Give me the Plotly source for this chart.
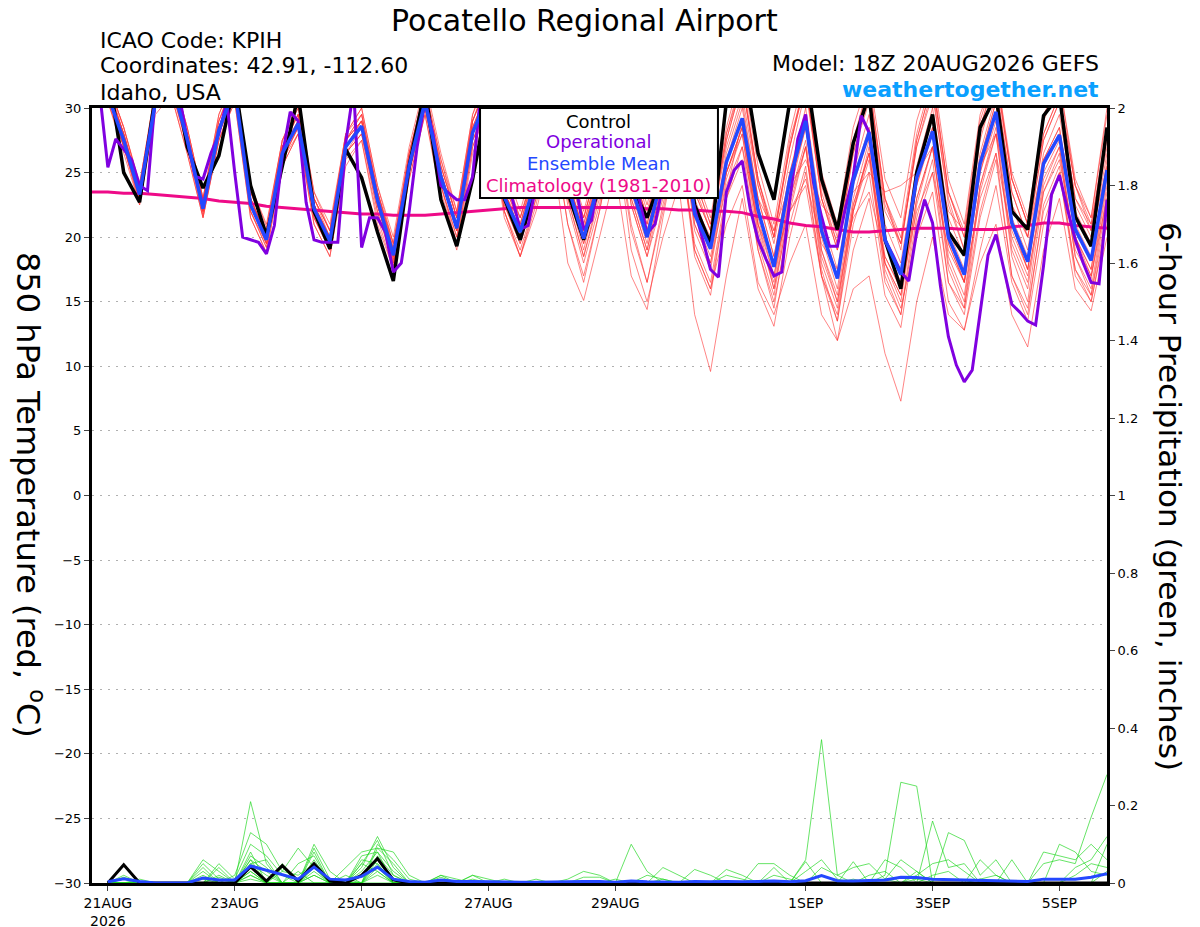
import pandas as pd
import plotly.graph_objs as go

# 6-hourly ensemble times (20AUG 18Z -> 5SEP 18Z), 3-hourly operational times
times = pd.date_range("2026-08-20 18:00", periods=65, freq="6h")
op_times = pd.date_range("2026-08-20 18:00", periods=129, freq="3h")
precip_times = times[1:]

tick_dates = ["2026-08-21", "2026-08-23", "2026-08-25", "2026-08-27",
              "2026-08-29", "2026-09-01", "2026-09-03", "2026-09-05"]
tick_labels = ["21AUG<br>2026", "23AUG", "25AUG", "27AUG", "29AUG", "1SEP", "3SEP", "5SEP"]

# 850 hPa temperature (C)
control_t = [32, 33, 25.0, 22.7, 31, 34, 27, 23.8, 26.3, 32, 24, 20.1, 25.5, 31, 22, 19.1,
             26.8, 24.6, 20.4, 16.6, 25.5, 31.5, 22.9, 19.3, 24.5, 31, 23, 19.8, 24, 31, 23.5, 19.8,
             24, 31, 24, 21.5, 25, 31, 22.5, 19.5, 30.5, 34, 26.5, 22.9, 30.5, 33, 24.5, 20.6,
             27.3, 31, 19.8, 16.0, 25.0, 29.5, 20.4, 18.6, 28.5, 31, 22.0, 20.6, 29.4, 31, 21.6, 19.3,
             28.5]
mean_t = [31.5, 31.0, 27.5, 23.3, 30.5, 32.0, 27.6, 22.2, 28.3, 31.5, 22.5, 19.8, 26.5, 28.8, 22.2, 19.7,
          27.0, 28.6, 22.9, 18.6, 25.5, 30.5, 24.7, 20.7, 28.1, 31.0, 23.1, 20.4, 24.5, 31.0, 24.0, 19.9,
          24.5, 31.0, 24.0, 20.0, 25.0, 31.0, 21.8, 19.1, 25.8, 29.2, 22.1, 17.7, 24.5, 29.0, 20.5, 16.8,
          24.4, 28.1, 19.8, 17.1, 24.6, 28.2, 20.0, 17.1, 25.7, 29.7, 21.1, 18.1, 25.7, 27.9, 20.6, 18.2,
          25.2]
clim_t = [23.5, 23.5, 23.4, 23.4, 23.3, 23.2, 23.1, 23.0, 22.8, 22.7, 22.6, 22.4, 22.3, 22.2, 22.1, 22.0,
          21.9, 21.8, 21.8, 21.7, 21.7, 21.7, 21.8, 21.9, 22.0, 22.1, 22.2, 22.3, 22.3, 22.3, 22.3, 22.3,
          22.3, 22.3, 22.3, 22.2, 22.2, 22.1, 22.1, 22.0, 22.0, 21.9, 21.6, 21.4, 21.1, 20.9, 20.8, 20.6,
          20.4, 20.4, 20.5, 20.6, 20.7, 20.7, 20.7, 20.6, 20.6, 20.6, 20.8, 20.9, 21.1, 21.1, 20.9, 20.8,
          20.7]
oper_t = [32, 31, 25.4, 27.6, 26.8, 26.0, 24.0, 23.6, 31, 33,
          33, 31, 27.6, 24.7, 24.5, 26.5, 28.0, 30.5, 25.0, 20.0,
          19.8, 19.6, 18.7, 20.9, 26.3, 29.7, 29.0, 22.7, 19.8, 19.6,
          19.6, 19.6, 27.3, 31.5, 19.2, 21.5, 21.5, 20.4, 17.3, 18.0,
          22.0, 27.0, 30.5, 28.0, 24.0, 23.4, 22.9, 22.9, 24.7, 31,
          32, 30, 26, 23, 20.6, 20.9, 24, 28, 31, 31,
          28, 24, 20.6, 21.3, 25, 29, 31, 30, 26, 23,
          20.3, 21, 24, 28, 31, 25, 22.2, 19.8, 17.5, 16.9,
          23.5, 25.2, 25.9, 22.2, 19.8, 18.3, 17.0, 17.3, 22.9, 27.6,
          29.5, 24.2, 21.6, 19.3, 19.3, 22.2, 24.7, 29.4, 28.1, 24.0,
          19.8, 18.6, 17.3, 16.6, 20.4, 22.9, 21.1, 16.2, 12.3, 10.1,
          8.8, 9.7, 14.2, 18.6, 20.2, 17.5, 14.8, 14.2, 13.5, 13.2,
          17.8, 23.3, 24.8, 22.2, 19.8, 18.0, 16.5, 16.4, 22.9]

# ensemble members, temperature
t_m01 = [32.0, 31.5, 28.0, 23.8, 31.0, 32.5, 28.0, 22.8, 29.0, 32.0, 23.5, 20.3, 27.0, 29.5, 23.0, 20.5, 27.5, 29.0, 23.5, 19.2, 26.5, 31.0, 25.5, 21.5, 29.0, 32.0, 24.0, 21.0, 25.5, 32.0, 25.0, 21.0, 25.5, 32.0, 25.5, 21.5, 26.5, 32.5, 23.5, 20.5, 27.0, 31.0, 24.0, 19.5, 26.0, 31.5, 23.0, 19.0, 26.5, 30.5, 22.0, 19.5, 27.0, 31.0, 23.0, 19.0, 28.0, 31.5, 23.5, 20.0, 27.5, 30.5, 23.0, 21.0, 27.5]
t_m02 = [31.0, 30.5, 27.0, 22.8, 30.0, 31.5, 27.0, 21.6, 27.5, 31.0, 22.0, 19.2, 26.0, 28.0, 21.5, 19.0, 26.5, 28.0, 22.0, 17.8, 25.0, 30.0, 24.0, 20.0, 27.5, 30.0, 22.5, 19.5, 23.5, 30.0, 23.0, 18.5, 23.0, 30.0, 22.5, 18.5, 24.0, 29.5, 20.5, 17.5, 24.5, 28.0, 20.5, 16.0, 23.0, 27.5, 19.0, 15.0, 22.5, 26.5, 18.0, 15.5, 23.0, 27.0, 18.5, 15.5, 24.0, 28.5, 19.5, 16.5, 24.5, 27.0, 19.0, 16.8, 24.0]
t_m03 = [32.5, 32.0, 28.5, 24.0, 31.5, 33.0, 28.5, 23.0, 29.5, 32.5, 24.0, 21.0, 27.5, 30.5, 23.5, 21.0, 28.0, 30.0, 24.0, 20.0, 27.0, 32.0, 26.5, 22.0, 29.5, 33.0, 25.5, 22.0, 26.5, 33.0, 26.0, 22.0, 26.5, 33.0, 26.5, 22.5, 27.5, 33.5, 25.0, 21.5, 28.5, 33.0, 25.5, 21.0, 28.0, 33.0, 25.0, 21.0, 28.5, 32.5, 24.5, 21.5, 29.0, 33.0, 24.5, 21.0, 29.5, 33.0, 25.0, 21.5, 29.5, 32.0, 24.5, 21.5, 30.0]
t_m04 = [31.5, 31.0, 27.5, 23.0, 30.5, 32.0, 27.0, 22.0, 28.0, 31.5, 22.0, 19.5, 26.0, 28.5, 21.5, 19.0, 26.5, 28.5, 22.5, 18.0, 25.0, 30.0, 24.0, 19.5, 27.0, 30.5, 22.0, 18.5, 23.0, 29.0, 21.0, 16.5, 22.0, 28.5, 19.0, 15.0, 20.0, 24.0, 14.0, 9.6, 17.0, 23.0, 16.0, 13.1, 20.0, 25.0, 17.0, 14.0, 22.0, 27.0, 18.0, 15.5, 24.0, 28.5, 20.0, 16.5, 25.0, 29.5, 21.0, 17.5, 25.5, 28.0, 20.0, 17.0, 24.5]
t_m05 = [31.0, 31.0, 27.0, 23.0, 30.0, 31.5, 27.5, 22.5, 28.5, 31.0, 23.0, 20.0, 26.5, 29.0, 22.5, 20.0, 27.0, 28.5, 23.0, 18.8, 25.5, 30.5, 24.5, 20.5, 28.0, 31.0, 23.5, 20.5, 24.5, 31.0, 24.5, 20.5, 25.0, 31.5, 24.0, 20.0, 25.5, 31.0, 22.5, 19.5, 25.0, 28.5, 21.0, 16.0, 22.0, 24.0, 17.0, 12.0, 16.0, 17.0, 11.0, 7.3, 15.0, 20.0, 14.0, 12.8, 19.0, 24.0, 16.5, 13.5, 21.0, 25.0, 17.0, 15.0, 21.0]
t_m06 = [31.0, 30.5, 27.0, 22.5, 29.5, 31.0, 26.5, 21.5, 27.5, 30.5, 21.5, 18.8, 25.5, 28.0, 21.0, 18.5, 26.0, 27.5, 21.5, 17.5, 24.5, 29.5, 23.5, 19.5, 27.0, 30.0, 22.0, 19.0, 23.0, 29.5, 22.5, 18.0, 22.5, 29.0, 21.0, 16.5, 22.0, 28.0, 18.5, 15.5, 23.0, 26.0, 19.0, 15.0, 21.0, 25.5, 17.0, 13.5, 21.0, 25.0, 16.5, 14.0, 21.5, 26.0, 16.5, 14.5, 22.0, 26.5, 17.0, 14.0, 22.5, 25.5, 17.5, 15.5, 22.0]
t_m07 = [32.0, 32.0, 28.5, 24.0, 31.5, 33.0, 28.5, 23.0, 29.0, 32.5, 23.5, 20.5, 27.5, 30.0, 23.0, 20.5, 28.0, 29.5, 23.5, 19.5, 26.5, 31.5, 26.0, 21.5, 29.0, 32.5, 24.5, 21.5, 25.5, 32.5, 25.5, 21.5, 26.0, 32.5, 25.5, 21.5, 27.0, 33.0, 24.0, 20.5, 28.0, 32.0, 24.5, 20.0, 27.5, 32.0, 23.5, 19.5, 27.0, 31.5, 23.0, 19.0, 27.5, 32.0, 23.5, 20.0, 28.5, 32.5, 24.5, 21.0, 28.0, 31.0, 24.0, 21.0, 28.5]
t_m08 = [31.5, 31.5, 27.5, 23.5, 30.5, 32.0, 28.0, 22.5, 28.0, 31.5, 23.0, 20.0, 26.5, 29.0, 22.5, 19.8, 27.0, 29.0, 23.0, 18.5, 25.5, 30.5, 24.5, 20.5, 27.5, 30.5, 22.0, 18.5, 22.0, 27.0, 18.0, 15.1, 20.0, 25.0, 17.0, 14.4, 21.5, 28.0, 19.5, 16.5, 23.5, 29.0, 20.0, 16.5, 23.5, 28.5, 19.0, 15.5, 23.0, 27.5, 18.5, 16.0, 24.0, 28.0, 19.5, 16.5, 26.0, 30.5, 21.0, 17.5, 26.0, 28.5, 20.0, 17.5, 26.0]
t_m09 = [31.5, 31.0, 27.5, 23.2, 30.5, 32.0, 27.5, 22.0, 28.5, 31.5, 22.5, 19.5, 26.5, 29.0, 22.0, 19.5, 27.0, 28.5, 22.5, 18.5, 25.5, 30.5, 24.5, 20.5, 28.0, 31.0, 23.0, 20.0, 24.5, 31.0, 24.0, 19.5, 24.5, 31.0, 23.5, 19.5, 25.0, 30.5, 21.5, 18.5, 25.0, 28.5, 21.0, 17.0, 23.0, 27.0, 18.5, 15.0, 22.0, 26.0, 17.5, 14.5, 20.0, 23.5, 15.0, 12.8, 18.0, 21.0, 14.0, 11.5, 19.0, 23.0, 16.0, 14.3, 20.0]
t_m10 = [31.5, 31.5, 28.0, 23.5, 31.0, 32.5, 28.0, 22.5, 28.5, 32.0, 23.0, 20.0, 27.0, 29.0, 22.5, 20.0, 27.5, 29.0, 23.0, 19.0, 26.0, 31.0, 25.0, 21.0, 28.5, 31.5, 23.5, 20.5, 25.0, 31.5, 24.5, 20.5, 25.0, 31.0, 24.0, 20.5, 25.5, 31.0, 22.5, 20.0, 26.0, 29.0, 23.0, 20.5, 24.0, 26.0, 22.5, 21.0, 23.5, 25.0, 23.5, 24.0, 25.0, 27.0, 22.0, 20.5, 25.5, 28.0, 22.5, 20.0, 26.0, 28.0, 22.5, 20.0, 25.5]
t_m11 = [31.0, 31.0, 27.5, 23.5, 30.0, 31.5, 27.5, 22.3, 28.0, 31.0, 22.5, 20.0, 26.5, 28.5, 22.0, 19.5, 27.0, 28.5, 22.5, 18.3, 25.5, 30.5, 25.0, 21.0, 28.5, 31.5, 23.5, 20.5, 24.5, 31.5, 24.5, 20.0, 24.5, 31.5, 24.5, 20.5, 25.5, 31.5, 22.5, 19.5, 26.5, 30.5, 23.0, 18.5, 25.0, 30.0, 21.5, 17.5, 25.0, 29.5, 21.0, 18.0, 25.5, 30.0, 21.5, 18.5, 26.5, 31.0, 22.5, 19.0, 26.5, 29.5, 22.0, 19.5, 26.5]
t_m12 = [32.0, 31.5, 27.0, 22.8, 30.5, 32.0, 27.5, 21.8, 28.5, 31.5, 22.0, 19.2, 26.0, 28.5, 22.0, 19.2, 26.5, 28.0, 22.5, 18.2, 25.5, 30.0, 24.5, 20.5, 28.0, 31.0, 23.5, 20.0, 24.0, 30.5, 23.5, 19.0, 24.0, 30.5, 23.0, 19.0, 24.5, 30.0, 21.0, 18.0, 25.0, 28.5, 21.5, 17.0, 24.0, 28.5, 20.0, 16.0, 24.0, 28.0, 19.5, 16.5, 24.5, 28.0, 19.5, 16.5, 25.0, 29.0, 20.5, 17.5, 25.0, 27.5, 20.0, 17.5, 25.0]
t_m13 = [31.5, 31.5, 28.0, 23.5, 31.0, 32.5, 28.0, 22.5, 28.5, 32.0, 23.0, 20.0, 27.0, 29.5, 23.0, 20.5, 27.5, 29.5, 23.5, 19.5, 26.0, 31.0, 25.5, 21.5, 29.0, 32.0, 24.0, 21.0, 25.5, 32.0, 25.5, 21.0, 25.5, 32.0, 25.0, 21.0, 26.0, 31.5, 23.0, 19.5, 25.0, 28.0, 19.5, 15.5, 22.5, 27.0, 18.0, 14.5, 22.5, 26.5, 18.0, 15.0, 23.0, 27.0, 18.0, 15.0, 24.0, 28.0, 19.0, 16.0, 24.0, 27.0, 18.5, 16.0, 23.5]
t_m14 = [31.5, 31.0, 27.5, 23.5, 30.5, 32.0, 28.0, 22.5, 28.5, 31.5, 23.0, 20.0, 27.0, 29.5, 22.5, 20.0, 27.5, 29.0, 23.5, 19.0, 26.0, 31.0, 25.0, 21.0, 28.5, 31.5, 23.5, 21.0, 25.0, 31.5, 24.5, 20.5, 25.5, 32.0, 25.0, 21.0, 26.5, 32.0, 23.5, 20.5, 27.5, 32.0, 24.0, 20.0, 27.0, 32.0, 23.0, 19.5, 27.5, 32.0, 23.0, 20.0, 28.0, 32.5, 23.5, 20.5, 29.0, 33.0, 24.5, 21.0, 29.0, 32.0, 24.0, 21.5, 29.5]
t_m15 = [31.0, 30.5, 26.5, 22.5, 30.0, 31.0, 26.5, 21.5, 27.5, 30.5, 21.5, 18.8, 25.5, 28.0, 21.0, 18.5, 25.5, 27.5, 21.0, 17.5, 24.5, 29.5, 23.0, 19.0, 26.5, 29.5, 21.5, 18.5, 22.5, 28.5, 21.0, 17.0, 22.0, 28.5, 20.5, 16.5, 22.5, 28.0, 19.0, 16.0, 23.0, 27.0, 19.0, 14.5, 22.0, 27.0, 17.5, 13.5, 22.0, 26.5, 17.0, 14.0, 22.5, 27.0, 17.5, 14.5, 23.5, 28.0, 18.5, 15.0, 23.5, 26.5, 18.5, 15.5, 23.0]
t_m16 = [32.0, 32.0, 28.0, 23.8, 31.0, 32.5, 28.0, 22.8, 29.0, 32.0, 23.5, 20.5, 27.0, 29.5, 23.0, 20.0, 27.5, 29.5, 23.5, 19.0, 26.5, 31.5, 25.5, 21.5, 29.0, 32.0, 24.0, 21.5, 25.5, 32.5, 25.5, 21.5, 26.0, 33.0, 26.0, 22.0, 27.0, 33.5, 24.5, 21.0, 28.0, 32.5, 24.5, 20.5, 27.0, 32.5, 24.0, 20.0, 27.0, 32.0, 23.0, 19.5, 27.0, 31.5, 22.5, 19.0, 27.5, 32.0, 23.5, 20.0, 27.5, 30.5, 23.0, 20.5, 27.0]
t_m17 = [31.0, 31.0, 27.0, 23.0, 30.0, 31.5, 27.0, 22.0, 28.0, 31.0, 22.5, 19.5, 26.0, 28.5, 21.5, 19.0, 26.5, 28.0, 22.0, 18.0, 25.0, 30.0, 24.0, 20.0, 27.5, 30.5, 22.5, 19.5, 23.5, 30.0, 23.0, 18.5, 23.5, 30.0, 22.5, 18.5, 23.0, 28.0, 19.0, 16.0, 21.0, 24.0, 16.5, 14.0, 18.0, 21.0, 14.0, 12.0, 19.0, 23.0, 15.5, 13.0, 21.0, 25.0, 16.5, 14.0, 21.5, 26.0, 17.0, 14.5, 22.0, 25.0, 17.5, 15.0, 21.5]
t_m18 = [31.5, 31.5, 28.0, 23.8, 30.5, 32.0, 27.5, 22.5, 28.0, 31.5, 23.0, 20.0, 26.5, 29.0, 22.5, 20.0, 27.0, 29.0, 23.0, 19.0, 25.5, 30.5, 25.0, 21.0, 28.0, 31.0, 23.5, 20.5, 24.5, 31.0, 24.5, 20.0, 24.5, 31.0, 24.0, 20.0, 25.0, 31.0, 22.0, 19.5, 26.0, 30.0, 23.0, 18.5, 25.0, 29.5, 21.0, 17.0, 24.5, 28.5, 20.0, 17.0, 24.5, 28.5, 20.5, 17.5, 26.0, 30.5, 21.5, 18.5, 26.0, 28.5, 21.0, 18.5, 25.5]
t_m19 = [32.0, 31.5, 27.5, 23.0, 30.5, 32.0, 27.5, 22.0, 28.5, 31.5, 22.5, 19.5, 26.5, 29.0, 22.0, 19.5, 27.0, 28.5, 22.5, 18.5, 25.5, 30.5, 24.5, 20.5, 28.0, 31.0, 23.0, 20.0, 24.0, 30.5, 23.5, 19.5, 24.0, 30.0, 23.0, 19.0, 24.5, 29.5, 21.0, 18.0, 24.0, 27.0, 21.0, 18.0, 22.0, 24.5, 19.5, 17.5, 21.5, 23.5, 18.5, 16.0, 22.0, 25.0, 19.0, 16.5, 23.0, 26.5, 20.0, 17.0, 23.5, 26.0, 19.5, 17.0, 23.0]
t_m20 = [32.0, 32.0, 28.5, 24.2, 31.0, 33.0, 28.5, 23.0, 29.5, 32.5, 24.0, 20.8, 27.5, 30.0, 23.5, 20.5, 28.0, 30.0, 24.0, 19.5, 26.5, 31.5, 26.0, 22.0, 29.5, 32.5, 25.0, 21.5, 26.0, 33.0, 26.0, 21.5, 26.0, 33.0, 25.5, 21.5, 27.0, 33.0, 24.5, 21.0, 27.5, 32.0, 24.5, 20.0, 27.0, 32.0, 23.0, 19.0, 26.5, 31.0, 22.5, 19.5, 27.5, 32.0, 23.5, 20.0, 28.5, 32.5, 24.5, 21.0, 28.0, 31.0, 24.0, 20.5, 28.5]

# 6-hour precipitation (inches), 21AUG 00Z -> 5SEP 18Z
control_p = [0, 0.047, 0, 0, 0, 0, 0, 0, 0, 0.042, 0.005, 0.045, 0.005, 0.05, 0.005, 0,
             0.02, 0.063, 0.008, 0, 0, 0, 0, 0, 0, 0, 0, 0, 0, 0, 0, 0,
             0, 0, 0, 0, 0, 0, 0, 0, 0, 0, 0, 0, 0, 0, 0, 0,
             0, 0, 0, 0, 0, 0, 0, 0, 0, 0, 0, 0, 0, 0, 0, 0]
mean_p = [0.003, 0.011, 0.004, 0, 0, 0, 0.013, 0.008, 0.008, 0.044, 0.033, 0.021, 0.01, 0.041, 0.01, 0.008,
          0.017, 0.041, 0.01, 0.004, 0.002, 0.008, 0.004, 0.004, 0.003, 0.003, 0.002, 0.002, 0.002, 0.003, 0.004, 0.004,
          0.002, 0.005, 0.003, 0.003, 0.002, 0.004, 0.003, 0.004, 0.003, 0.004, 0.005, 0.003, 0.006, 0.019, 0.006, 0.005,
          0.006, 0.008, 0.015, 0.014, 0.01, 0.009, 0.008, 0.007, 0.006, 0.005, 0.004, 0.01, 0.01, 0.01, 0.015, 0.024]

p_m01 = [0, 0.02, 0, 0, 0, 0, 0.06, 0.03, 0, 0.21, 0.05, 0, 0, 0.08, 0, 0, 0.05, 0.11, 0.02, 0, 0, 0, 0, 0, 0, 0, 0, 0, 0, 0, 0, 0, 0, 0.10, 0.03, 0, 0, 0, 0, 0, 0, 0, 0, 0, 0.06, 0.37, 0.02, 0.04, 0.05, 0.01, 0, 0, 0, 0, 0, 0, 0, 0, 0, 0, 0, 0, 0, 0]
p_m02 = [0, 0.01, 0, 0, 0, 0, 0.04, 0, 0.02, 0.13, 0.10, 0.03, 0.09, 0.04, 0, 0.04, 0.08, 0.09, 0.08, 0.02, 0, 0, 0, 0, 0, 0, 0, 0, 0, 0, 0, 0, 0, 0, 0, 0, 0, 0, 0, 0, 0, 0, 0, 0, 0, 0, 0, 0.01, 0, 0.02, 0.26, 0.25, 0, 0, 0, 0, 0, 0, 0, 0, 0, 0, 0, 0]
p_m03 = [0, 0, 0.01, 0, 0, 0, 0, 0.05, 0.01, 0.10, 0.07, 0.02, 0, 0.10, 0.03, 0, 0.04, 0.12, 0.04, 0, 0, 0.02, 0.01, 0, 0, 0, 0, 0, 0, 0, 0, 0, 0, 0, 0, 0, 0, 0, 0, 0, 0, 0, 0, 0, 0, 0, 0, 0, 0, 0, 0, 0, 0.16, 0.04, 0.05, 0, 0, 0, 0, 0, 0, 0, 0, 0]
p_m04 = [0, 0, 0, 0, 0, 0, 0.02, 0, 0, 0.06, 0.03, 0, 0.05, 0.07, 0, 0.02, 0, 0.07, 0.02, 0, 0, 0, 0, 0.02, 0.01, 0, 0, 0, 0, 0, 0, 0, 0, 0, 0, 0, 0, 0, 0, 0, 0, 0, 0, 0, 0, 0, 0, 0, 0, 0, 0, 0.03, 0, 0.13, 0.11, 0.02, 0.06, 0, 0, 0, 0, 0, 0, 0]
p_m05 = [0, 0, 0, 0, 0, 0, 0, 0.04, 0, 0.08, 0, 0.05, 0, 0.04, 0, 0, 0.03, 0.08, 0.03, 0, 0, 0.015, 0, 0, 0, 0, 0, 0, 0, 0.01, 0.03, 0.02, 0, 0, 0, 0.04, 0.02, 0, 0, 0.035, 0.02, 0, 0, 0, 0, 0, 0, 0, 0, 0, 0, 0, 0, 0, 0, 0, 0, 0, 0, 0.05, 0.06, 0.05, 0.17, 0.28]
p_m06 = [0, 0, 0, 0, 0, 0, 0.03, 0, 0, 0.05, 0.02, 0, 0, 0.06, 0, 0, 0, 0.06, 0, 0, 0, 0, 0, 0, 0, 0.01, 0, 0, 0, 0, 0, 0, 0, 0, 0, 0, 0, 0.035, 0.02, 0, 0, 0.05, 0.05, 0.02, 0, 0, 0, 0, 0, 0, 0, 0, 0, 0, 0, 0, 0, 0, 0, 0.08, 0.07, 0.06, 0.10, 0.06]
p_m07 = [0, 0, 0, 0, 0, 0, 0, 0, 0, 0.04, 0, 0.03, 0.02, 0.05, 0, 0, 0.06, 0.05, 0, 0, 0, 0, 0, 0, 0, 0, 0, 0, 0, 0, 0, 0, 0, 0, 0, 0, 0, 0, 0, 0, 0, 0, 0, 0, 0, 0, 0, 0.055, 0, 0.06, 0.04, 0, 0, 0, 0, 0.06, 0.02, 0, 0, 0, 0, 0, 0, 0]
p_m08 = [0, 0, 0, 0, 0, 0, 0, 0.02, 0, 0.07, 0.04, 0, 0, 0.03, 0, 0, 0, 0.09, 0.05, 0, 0, 0, 0, 0, 0, 0, 0, 0, 0, 0, 0, 0, 0, 0, 0, 0, 0, 0, 0, 0, 0, 0, 0, 0, 0.03, 0.06, 0.01, 0, 0, 0, 0, 0.02, 0.05, 0.06, 0.03, 0, 0, 0.06, 0, 0, 0, 0.04, 0.06, 0.12]
p_m09 = [0, 0, 0, 0, 0, 0, 0, 0, 0, 0.03, 0, 0, 0, 0.02, 0, 0, 0, 0.04, 0, 0, 0, 0, 0, 0.01, 0, 0, 0, 0.01, 0, 0, 0, 0, 0.01, 0, 0, 0, 0, 0, 0, 0.02, 0.01, 0, 0, 0, 0, 0, 0, 0, 0.02, 0.03, 0, 0, 0, 0, 0, 0, 0, 0, 0, 0, 0.10, 0.08, 0.03, 0.02]
p_m10 = [0, 0, 0, 0, 0, 0, 0.05, 0.01, 0, 0.06, 0, 0.04, 0, 0.09, 0.01, 0, 0.07, 0.08, 0, 0, 0, 0, 0, 0, 0, 0, 0, 0, 0, 0, 0, 0, 0, 0, 0, 0, 0, 0, 0, 0, 0, 0, 0, 0, 0, 0.04, 0.02, 0, 0, 0.01, 0.06, 0.03, 0, 0, 0, 0.01, 0.02, 0, 0, 0, 0, 0, 0, 0]
p_m11 = [0, 0.015, 0, 0, 0, 0, 0, 0, 0, 0.05, 0.06, 0, 0, 0.05, 0, 0, 0, 0.10, 0.06, 0.01, 0, 0, 0, 0, 0, 0, 0, 0, 0, 0, 0, 0, 0, 0, 0, 0.01, 0, 0, 0, 0, 0, 0, 0, 0, 0, 0, 0, 0, 0, 0, 0, 0, 0, 0, 0, 0, 0, 0, 0, 0, 0, 0.02, 0.05, 0.04]
p_m12 = [0, 0, 0, 0, 0, 0, 0, 0, 0, 0.02, 0, 0, 0, 0.04, 0, 0.01, 0, 0.05, 0, 0, 0, 0, 0, 0, 0, 0, 0, 0, 0, 0, 0, 0, 0, 0, 0.02, 0.01, 0, 0, 0, 0, 0, 0, 0.02, 0.01, 0, 0, 0, 0, 0, 0, 0, 0, 0.02, 0.03, 0, 0, 0, 0, 0, 0, 0, 0, 0, 0.10]
p_m13 = [0, 0, 0, 0, 0, 0, 0.01, 0, 0, 0.04, 0, 0, 0.03, 0, 0, 0, 0, 0.03, 0, 0, 0, 0.02, 0, 0.02, 0, 0, 0, 0, 0, 0, 0.015, 0.015, 0, 0, 0, 0, 0, 0, 0, 0, 0, 0, 0, 0, 0, 0, 0, 0, 0, 0, 0, 0, 0, 0, 0, 0.01, 0, 0, 0, 0, 0, 0, 0, 0]
p_m14 = [0, 0, 0, 0, 0, 0, 0, 0, 0, 0.03, 0, 0, 0, 0.02, 0, 0, 0.05, 0.03, 0, 0, 0, 0, 0, 0, 0, 0, 0, 0, 0, 0, 0, 0, 0, 0, 0, 0, 0, 0, 0, 0, 0, 0, 0.04, 0, 0.055, 0, 0, 0, 0, 0, 0, 0.01, 0, 0, 0, 0, 0, 0, 0, 0, 0, 0, 0, 0]
p_m15 = [0, 0, 0, 0, 0, 0, 0, 0.015, 0, 0.02, 0, 0, 0, 0, 0, 0, 0, 0.02, 0, 0, 0, 0, 0, 0, 0, 0, 0, 0, 0, 0, 0, 0, 0, 0, 0, 0, 0, 0, 0, 0, 0, 0, 0, 0, 0, 0, 0, 0, 0, 0, 0, 0, 0, 0, 0, 0, 0, 0, 0, 0, 0, 0, 0, 0]
p_m16 = [0, 0, 0, 0, 0, 0, 0, 0, 0, 0.01, 0, 0, 0, 0, 0, 0, 0, 0, 0, 0, 0, 0, 0, 0, 0, 0, 0, 0, 0, 0, 0, 0, 0, 0, 0, 0, 0, 0, 0, 0, 0, 0, 0, 0, 0, 0, 0, 0, 0, 0, 0, 0, 0, 0, 0, 0, 0, 0, 0, 0, 0, 0, 0, 0.03]

temp_members = [t_m01, t_m02, t_m03, t_m04, t_m05, t_m06, t_m07, t_m08, t_m09, t_m10,
                t_m11, t_m12, t_m13, t_m14, t_m15, t_m16, t_m17, t_m18, t_m19, t_m20]
precip_members = [p_m01, p_m02, p_m03, p_m04, p_m05, p_m06, p_m07, p_m08,
                  p_m09, p_m10, p_m11, p_m12, p_m13, p_m14, p_m15, p_m16]

FONT = "DejaVu Sans, Verdana, sans-serif"
C_OPER = "#8000e0"
C_MEAN = "#2448ff"
C_CLIM = "#ee0a88"

fig = go.Figure()

# ensemble members (thin)
for m in temp_members:
    fig.add_trace(go.Scatter(x=times, y=m, mode="lines", showlegend=False, hoverinfo="skip",
                             line=dict(color="rgba(255,50,50,0.75)", width=0.8)))
for m in precip_members:
    fig.add_trace(go.Scatter(x=precip_times, y=m, mode="lines", showlegend=False, hoverinfo="skip",
                             yaxis="y2", line=dict(color="rgba(30,215,30,0.85)", width=0.8)))

# precipitation control / mean
fig.add_trace(go.Scatter(x=precip_times, y=control_p, mode="lines", yaxis="y2", showlegend=False,
                         line=dict(color="black", width=3)))
fig.add_trace(go.Scatter(x=precip_times, y=mean_p, mode="lines", yaxis="y2", showlegend=False,
                         line=dict(color=C_MEAN, width=3)))

# temperature main lines
fig.add_trace(go.Scatter(x=times, y=clim_t, mode="lines", showlegend=False,
                         line=dict(color=C_CLIM, width=3)))
fig.add_trace(go.Scatter(x=times, y=control_t, mode="lines", showlegend=False,
                         line=dict(color="black", width=3.5)))
fig.add_trace(go.Scatter(x=op_times, y=oper_t, mode="lines", showlegend=False,
                         line=dict(color=C_OPER, width=3)))
fig.add_trace(go.Scatter(x=times, y=mean_t, mode="lines", showlegend=False,
                         line=dict(color=C_MEAN, width=3.5)))

fig.update_layout(
    width=1200,
    height=927,
    margin=dict(l=84, r=101, t=100, b=52),
    paper_bgcolor="white",
    plot_bgcolor="white",
    font=dict(family=FONT, color="black", size=13),
    xaxis=dict(
        type="date",
        range=[times[0], times[-1]],
        tickvals=tick_dates,
        ticktext=tick_labels,
        ticks="outside",
        ticklen=5,
        showline=True,
        linewidth=3,
        linecolor="black",
        mirror=True,
        showgrid=False,
        zeroline=False,
        automargin=False,
        tickfont=dict(size=14),
    ),
    yaxis=dict(
        range=[-30, 30],
        dtick=5,
        ticks="outside",
        ticklen=5,
        showline=True,
        linewidth=3,
        linecolor="black",
        showgrid=True,
        gridcolor="#b0b0b0",
        griddash="2px,6px",
        gridwidth=1,
        zeroline=False,
        automargin=False,
        tickfont=dict(size=13),
    ),
    yaxis2=dict(
        range=[0, 2],
        dtick=0.2,
        overlaying="y",
        side="right",
        ticks="outside",
        ticklen=5,
        showline=True,
        linewidth=3,
        linecolor="black",
        showgrid=False,
        zeroline=False,
        automargin=False,
        tickfont=dict(size=13),
    ),
    shapes=[dict(type="rect", xref="paper", yref="paper", x0=0.3823, x1=0.6167, y0=0.8839, y1=1.0,
                 fillcolor="white", line=dict(color="black", width=2), layer="above")],
)

annotations = [
    dict(text="Pocatello Regional Airport", x=0.4857, y=1.1135, xanchor="center", yanchor="middle",
         font=dict(size=30)),
    dict(text="ICAO Code: KPIH", x=0.006, y=1.0877, xanchor="left", yanchor="middle", font=dict(size=22)),
    dict(text="Coordinates: 42.91, -112.60", x=0.006, y=1.0542, xanchor="left", yanchor="middle",
         font=dict(size=22)),
    dict(text="Idaho, USA", x=0.006, y=1.0206, xanchor="left", yanchor="middle", font=dict(size=22)),
    dict(text="Model: 18Z 20AUG2026 GEFS", x=0.994, y=1.0568, xanchor="right", yanchor="middle",
         font=dict(size=22)),
    dict(text="<b>weathertogether.net</b>", x=0.994, y=1.0245, xanchor="right", yanchor="middle",
         font=dict(size=22, color="#0aa0ff")),
    dict(text="850 hPa Temperature (red, <sup>o</sup>C)", x=-0.061, y=0.5006, xanchor="center",
         yanchor="middle", textangle=90, font=dict(size=32)),
    dict(text="6-hour Precipitation (green, inches)", x=1.062, y=0.4981, xanchor="center",
         yanchor="middle", textangle=90, font=dict(size=31)),
    # legend box entries
    dict(text="Control", x=0.4995, y=0.9832, xanchor="center", yanchor="middle", font=dict(size=18)),
    dict(text="Operational", x=0.4995, y=0.9574, xanchor="center", yanchor="middle",
         font=dict(size=18, color=C_OPER)),
    dict(text="Ensemble Mean", x=0.4995, y=0.929, xanchor="center", yanchor="middle",
         font=dict(size=18, color=C_MEAN)),
    dict(text="Climatology (1981-2010)", x=0.4995, y=0.9006, xanchor="center", yanchor="middle",
         font=dict(size=18, color=C_CLIM)),
]
for a in annotations:
    a.setdefault("xref", "paper")
    a.setdefault("yref", "paper")
    a.setdefault("showarrow", False)
fig.update_layout(annotations=annotations)

fig.write_html("out.html")
